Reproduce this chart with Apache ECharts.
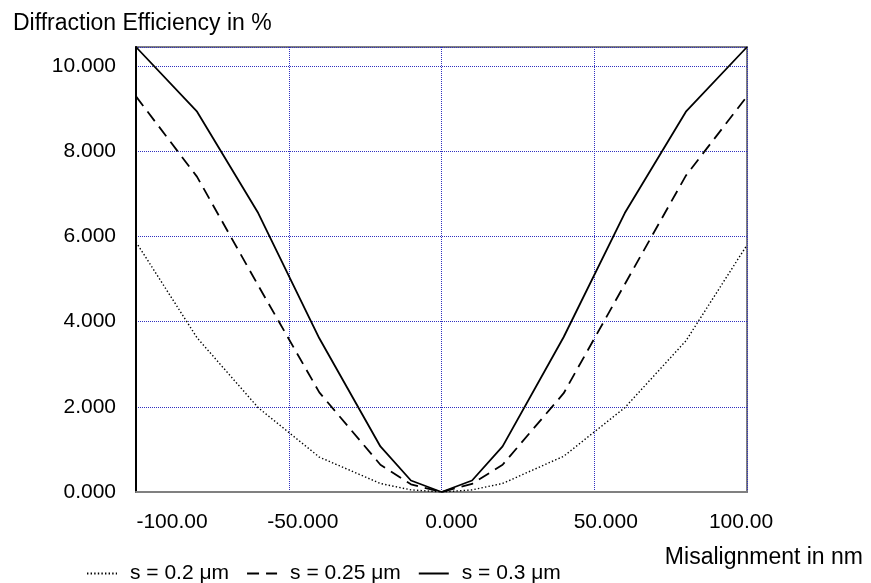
<!DOCTYPE html>
<html>
<head>
<meta charset="utf-8">
<script src="https://cdn.jsdelivr.net/npm/echarts@6/dist/echarts.min.js"></script>
<style>html,body{margin:0;padding:0;background:#fff}#chart{width:871px;height:583px}</style>
</head>
<body>
<div id="chart"></div>
<script>
// ---- data ----
const xValues = [-100, -80, -60, -40, -20, -10, 0, 10, 20, 40, 60, 80, 100];
const s02  = [5.87, 3.62, 1.98, 0.82, 0.20, 0.05, 0, 0.05, 0.20, 0.84, 1.98, 3.55, 5.80];
const s025 = [9.29, 7.40, 4.85, 2.34, 0.64, 0.18, 0, 0.19, 0.64, 2.32, 4.88, 7.43, 9.29];
const s03  = [10.45, 8.93, 6.55, 3.61, 1.07, 0.27, 0, 0.27, 1.07, 3.64, 6.55, 8.93, 10.45];
const seriesNames = ['s = 0.2 μm', 's = 0.25 μm', 's = 0.3 μm'];
const xTickValues = [-100, -50, 0, 50, 100];
const xTickLabels = ['-100.00', '-50.000', '0.000', '50.000', '100.00'];
const yTickValues = [0, 2, 4, 6, 8, 10];
const yTickLabels = ['0.000', '2.000', '4.000', '6.000', '8.000', '10.000'];
const yTitle = 'Diffraction Efficiency in %';
const xTitle = 'Misalignment in nm';

// ---- styling ----
const FONT = "'Liberation Sans', Arial, Helvetica, sans-serif";
const gridColor = '#3030c0';
const pairs = arr => arr.map((v, i) => [xValues[i], v]);
const xRich = {
  t0: { fontSize: 21, fontFamily: FONT, color: '#000', padding: [0, 0, 0, 72] },
  t1: { fontSize: 21, fontFamily: FONT, color: '#000', padding: [0, 0, 0, 28] },
  t2: { fontSize: 21, fontFamily: FONT, color: '#000', padding: [0, 0, 0, 20] },
  t3: { fontSize: 21, fontFamily: FONT, color: '#000', padding: [0, 0, 0, 23] },
  t4: { fontSize: 21, fontFamily: FONT, color: '#000', padding: [0, 12, 0, 0] }
};

const chart = echarts.init(document.getElementById('chart'), null, { renderer: 'canvas' });
chart.setOption({
  animation: false,
  backgroundColor: '#fff',
  textStyle: { fontFamily: FONT, color: '#000' },
  title: [
    { text: yTitle, left: 13, top: 12, padding: 0,
      textStyle: { fontSize: 23, fontWeight: 'normal', color: '#000', fontFamily: FONT } },
    { text: xTitle, right: 8, top: 546, padding: 0,
      textStyle: { fontSize: 23, fontWeight: 'normal', color: '#000', fontFamily: FONT } }
  ],
  grid: { left: 136, right: 124, top: 47, bottom: 91, show: true,
          borderColor: '#808080', borderWidth: 2, backgroundColor: '#fff' },
  legend: {
    left: 86, top: 563, padding: 0, itemWidth: 30, itemHeight: 12, itemGap: 17,
    itemStyle: { opacity: 0 },
    textStyle: { fontSize: 21, fontFamily: FONT, color: '#000', padding: [0, 0, 0, 8] },
    data: seriesNames
  },
  xAxis: {
    type: 'value', min: -100, max: 100, interval: 50,
    axisLine: { show: true, onZero: false, lineStyle: { color: '#808080', width: 2 } },
    axisTick: { show: false },
    splitLine: { show: true, lineStyle: { color: gridColor, type: 'dotted', width: 1 } },
    axisLabel: {
      margin: 20, interval: 0, showMinLabel: true, showMaxLabel: true,
      formatter: v => { const i = xTickValues.indexOf(v); return i < 0 ? '' : '{t' + i + '|' + xTickLabels[i] + '}'; },
      rich: xRich
    }
  },
  yAxis: {
    type: 'value', min: 0, max: 10.45, interval: 2,
    axisLine: { show: true, onZero: false, lineStyle: { color: '#000', width: 2 } },
    axisTick: { show: false },
    splitLine: { show: true, lineStyle: { color: gridColor, type: 'dotted', width: 1 } },
    axisLabel: {
      margin: 20, fontSize: 21, fontFamily: FONT, color: '#000', showMaxLabel: false,
      formatter: v => { const i = yTickValues.indexOf(v); return i < 0 ? '' : yTickLabels[i]; }
    }
  },
  series: [
    { name: seriesNames[0], type: 'line', data: pairs(s02), symbol: 'none', z: 3,
      lineStyle: { color: '#000', width: 1.4, type: [1.4, 2.2] }, itemStyle: { color: '#000' } },
    { name: seriesNames[1], type: 'line', data: pairs(s025), symbol: 'none', z: 4,
      lineStyle: { color: '#000', width: 1.8, type: [12, 7] }, itemStyle: { color: '#000' } },
    { name: seriesNames[2], type: 'line', data: pairs(s03), symbol: 'none', z: 5,
      lineStyle: { color: '#000', width: 1.8, type: 'solid' }, itemStyle: { color: '#000' } }
  ]
});
</script>
</body>
</html>
